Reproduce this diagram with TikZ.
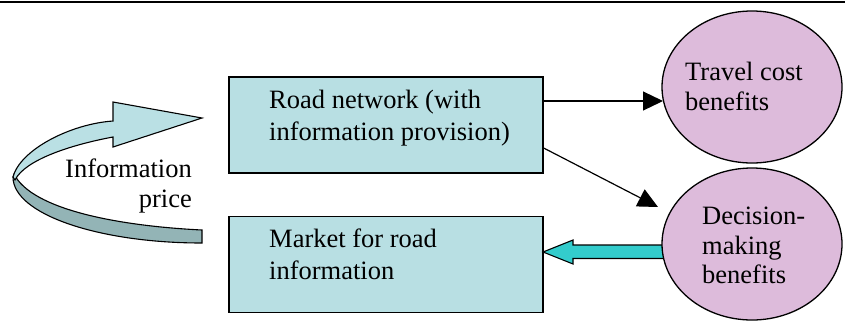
\documentclass[tikz,border=0pt]{standalone}
\usepackage{fontspec}
\setmainfont{Liberation Serif}
\usetikzlibrary{arrows.meta,shapes.geometric}
\definecolor{boxfill}{RGB}{184,223,227}
\definecolor{ellfill}{RGB}{221,187,219}
\definecolor{blockfill}{RGB}{51,204,204}
\definecolor{curvelight}{RGB}{186,224,228}
\definecolor{curvedark}{RGB}{147,180,182}
\begin{document}
\begin{tikzpicture}[x=1pt,y=-1pt,
  infobox/.style={draw=black, line width=1.3pt, fill=boxfill, minimum width=314pt, minimum height=96pt, inner sep=0pt},
  benefit/.style={ellipse, draw=black, line width=1.3pt, fill=ellfill, minimum width=180pt, minimum height=152pt, inner sep=0pt},
  txt/.style={anchor=base west, inner sep=0pt, font=\fontsize{26.5}{31}\selectfont},
  txtr/.style={anchor=base east, inner sep=0pt, font=\fontsize{26.5}{31}\selectfont},
  conn/.style={line width=1.2pt, -{Triangle[length=20pt,width=19pt]}},
  shapeline/.style={draw=black, line width=1.1pt, line join=miter}]
\useasboundingbox (0,0) rectangle (845,322);
\fill[white] (0,0) rectangle (845,322);
\draw[line width=2pt] (0,2) -- (845,2);

% curved arrow (information price)
\filldraw[shapeline, fill=curvedark] (202,230) .. controls (120,226) and (32,210) .. (14,174)
  -- (13,177) .. controls (13,214) and (98,243) .. (202,243) -- cycle;
\filldraw[shapeline, fill=curvelight] (113,121) -- (113,102) -- (202,118) -- (113,147) -- (113,137)
  .. controls (70,145) and (25,160) .. (15,180)
  -- (13,177) .. controls (20,150) and (70,124) .. (113,121) -- cycle;
\node[txtr] (infoA) at (192,177) {Information};
\node[txtr] (infoB) at (192,207) {price};

% boxes
\node[infobox] (road) at (386,125) {};
\node[infobox] (market) at (386,264.5) {};
\node[txt] (roadA) at (269,108) {Road network (with};
\node[txt] (roadB) at (269,140) {information provision)};
\node[txt] (marketA) at (269,247) {Market for road};
\node[txt] (marketB) at (269,279) {information};

% block arrow from decision-making benefits to market
\filldraw[shapeline, fill=blockfill] (670,245) -- (573,245) -- (573,240) -- (543,252)
  -- (573,264) -- (573,258.5) -- (670,258.5) -- cycle;

% ellipses
\node[benefit] (travel) at (752,87) {};
\node[benefit] (decision) at (752,244) {};
\node[txt] (travelA) at (685,80) {Travel cost};
\node[txt] (travelB) at (685,110) {benefits};
\node[txt] (decA) at (702,224) {Decision-};
\node[txt] (decB) at (702,254) {making};
\node[txt] (decC) at (702,283) {benefits};

% connectors
\coordinate (tcEnd) at (663,101);
\coordinate (dmEnd) at (658,207);
\draw[conn] ([yshift=24pt]road.east) -- (tcEnd);
\draw[conn] ([yshift=-23pt]road.east) -- (dmEnd);
\end{tikzpicture}
\end{document}
